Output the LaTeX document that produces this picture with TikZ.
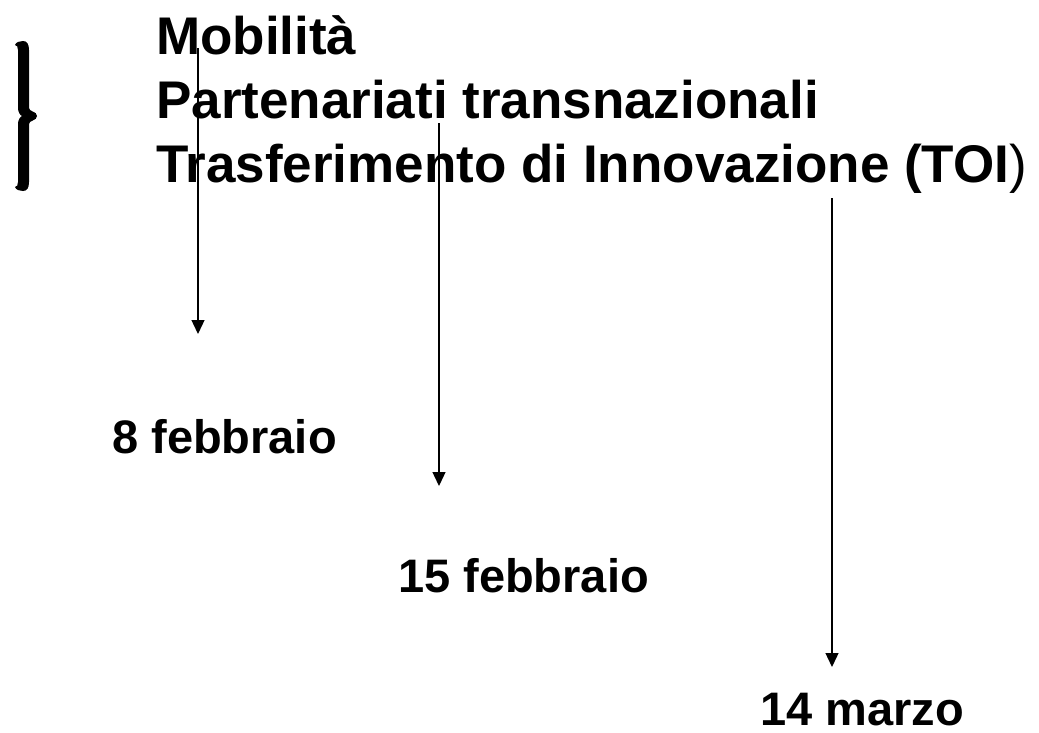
\documentclass[tikz,border=0pt]{standalone}
\usepackage{fontspec}
\setmainfont{Liberation Sans}
\usetikzlibrary{arrows.meta}

\begin{document}
\begin{tikzpicture}[x=1pt,y=-1pt,
    item/.style={anchor=base west, inner sep=0pt, font=\fontsize{53}{63}\selectfont\bfseries},
    date/.style={anchor=base west, inner sep=0pt, font=\fontsize{47}{56}\selectfont\bfseries},
    deadline/.style={-{Triangle[length=14pt,width=13pt]}, line width=1.3pt}]
    \useasboundingbox (0,0) rectangle (1039,732);

    % Actions
    \node[item] (mob) at (156,54) {Mobilità};
    \node[item] (part) at (156,118) {Partenariati transnazionali};
    \node[item] (toi) at (156,182) {Trasferimento di Innovazione (TOI{\mdseries)}};

    % Brace
    \fill (15,45) .. controls (16,42) and (20,41) .. (23,41)
        .. controls (27,41) and (29,44) .. (29,50) -- (29,108)
        .. controls (29,112) and (37,111) .. (37,116)
        .. controls (37,121) and (29,120) .. (29,124) -- (29,182)
        .. controls (29,188) and (27,191) .. (23,191)
        .. controls (20,191) and (16,190) .. (15,187)
        .. controls (17,187) and (18,185) .. (18,182) -- (18,124)
        .. controls (18,120) and (20,117) .. (22,116)
        .. controls (20,115) and (18,112) .. (18,108) -- (18,50)
        .. controls (18,47) and (17,45) .. (15,45) -- cycle;

    % Deadlines
    \node[date] (feb8) at (112,453) {8 febbraio};
    \node[date] (feb15) at (398,592) {15 febbraio};
    \node[date] (mar14) at (760,725) {14 marzo};

    % Arrows
    \coordinate (mobstart) at (198,48);
    \coordinate (mobend) at (198,334);
    \coordinate (partstart) at (439,123);
    \coordinate (partend) at (439,486);
    \coordinate (toistart) at (832,198);
    \coordinate (toiend) at (832,667);
    \draw[deadline] (mobstart) -- (mobend);
    \draw[deadline] (partstart) -- (partend);
    \draw[deadline] (toistart) -- (toiend);
\end{tikzpicture}
\end{document}
